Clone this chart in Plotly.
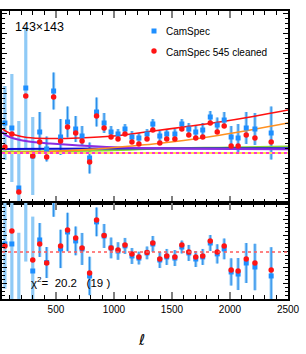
import plotly.graph_objects as go
from plotly.subplots import make_subplots

# ---------------- data ----------------
ell = [60, 120, 180, 240, 300, 360, 420, 480, 540, 600, 670, 725, 790, 850, 915,
       975, 1035, 1095, 1155, 1215, 1285, 1335, 1395, 1455, 1525, 1585, 1645, 1705,
       1765, 1830, 1890, 1950, 2010, 2070, 2140, 2215, 2355]

top_camspec = [6.0, 5.0, -7.0, 13.0, -0.6, 4.2, 0.8, 12.4, 3.2, 6.2, 4.8, 3.4, -1.0, 8.2, 6.0,
               4.2, 3.8, 4.8, 3.2, 3.0, 3.8, 5.8, 3.4, 3.8, 3.8, 5.8, 4.8, 4.2,
               4.6, 7.2, 5.6, 6.6, 3.2, 3.0, 5.0, 4.8, 4.0]
top_cleaned = [1.2, 3.8, -7.8, 11.4, -0.6, 2.2, -0.8, 11.2, 2.4, 5.2, 4.0, 2.4, -1.8, 7.4, 5.0,
               3.2, 2.8, 3.8, 2.2, 1.8, 2.8, 4.6, 2.0, 2.8, 2.8, 4.8, 3.6, 3.0,
               3.2, 6.0, 4.2, 5.4, 1.4, 1.4, 3.6, 3.0, 2.2]
top_err = [7.4, 10.8, 13.4, 12.2, 7.8, 4.0, 2.5, 3.7, 3.6, 3.1, 2.6, 2.0, 3.1, 2.9, 2.0,
           1.2, 1.0, 1.0, 1.2, 1.0, 1.0, 1.0, 1.0, 1.0, 1.0, 1.0, 1.2, 1.2,
           1.4, 1.2, 1.5, 1.6, 2.2, 2.8, 3.2, 3.2, 5.3]

res_camspec = [0.5, 0.5, -3.8, 3.6, -1.19, 0.75, -0.66, 3.4, 0.19, 1.25, 0.69, 0.19, -1.5, 1.88, 1.0,
               0.25, 0.06, 0.38, -0.25, -0.38, -0.06, 0.5, -0.5, -0.31, -0.38, 0.31, -0.06, -0.44,
               -0.31, 0.56, -0.12, 0.19, -1.25, -1.38, -0.69, -0.94, -1.5]
res_cleaned = [0.38, 1.31, -4.0, 3.4, -0.5, 0.5, -0.69, 3.3, 0.38, 1.38, 0.88, 0.25, -1.31, 2.0, 1.03,
               0.25, 0.12, 0.44, -0.12, -0.31, -0.03, 0.56, -0.44, -0.25, -0.31, 0.44, 0.0, -0.31,
               -0.25, 0.69, 0.0, 0.38, -1.12, -1.19, -0.44, -0.69, -1.12]
res_err = [2.8, 3.5, 5.0, 4.2, 3.4, 1.06, 0.97, 1.2, 1.2, 1.2, 0.9, 1.0, 1.2, 0.9, 0.75,
           0.65, 0.55, 0.5, 0.5, 0.4, 0.4, 0.5, 0.5, 0.5, 0.5, 0.4, 0.5, 0.5,
           0.5, 0.5, 0.6, 0.65, 0.85, 1.0, 1.25, 1.45, 1.8]

# model curves
ell_red = [35, 80, 150, 250, 450, 700, 1000, 1340, 1600, 1910, 2200, 2500]
model_red = [4.9, 4.2, 3.6, 3.1, 2.9, 3.0, 3.4, 4.4, 5.2, 6.2, 7.3, 8.6]
ell_orange = [35, 500, 800, 1100, 1340, 1600, 1910, 2200, 2500]
model_orange = [0.1, 0.35, 0.72, 1.3, 1.8, 2.5, 3.55, 4.7, 6.0]
ell_purple = [35, 60, 100, 190, 300, 450, 700, 1000, 1400, 2000, 2500]
model_purple = [4.2, 3.7, 3.2, 2.6, 2.2, 1.9, 1.5, 1.15, 0.95, 0.8, 0.75]
ell_green = [35, 500, 900, 1400, 2000, 2500]
model_green = [0.25, 0.35, 0.5, 0.9, 1.1, 1.3]
ell_blue = [35, 1000, 2500]
model_blue = [0.8, 0.9, 0.95]

x_ticks = [500, 1000, 1500, 2000, 2500]
label_spec = "143×143"
chi2_text = "χ<sup>2</sup>=\u00a0\u00a020.2\u00a0\u00a0\u00a0(19\u00a0)"

# ---------------- styling ----------------
FONT = "Liberation Sans, Arial, Helvetica, sans-serif"
LIGHT = "#8fcaf6"
DARK = "#2a8ceb"
BLUE = "#1e8fff"
RED = "#ff1414"

fig = make_subplots(rows=2, cols=1, shared_xaxes=True, vertical_spacing=0,
                    row_heights=[2 / 3, 1 / 3])

dark_idx = [i for i, l in enumerate(ell) if l > 330]


def add_panel(row, yb, err):
    fig.add_trace(go.Scatter(x=ell, y=yb, mode="markers",
                             marker=dict(size=1, color="rgba(0,0,0,0)"),
                             error_y=dict(type="data", array=err, color=LIGHT,
                                          thickness=3.2, width=0),
                             hoverinfo="skip"), row=row, col=1)
    fig.add_trace(go.Scatter(x=[ell[i] for i in dark_idx], y=[yb[i] for i in dark_idx],
                             mode="markers", marker=dict(size=1, color="rgba(0,0,0,0)"),
                             error_y=dict(type="data", array=[err[i] for i in dark_idx],
                                          color=DARK, thickness=1.1, width=0),
                             hoverinfo="skip"), row=row, col=1)


add_panel(1, top_camspec, top_err)
# zero reference lines in top panel
fig.add_hline(y=0, line=dict(color="#ffe04a", width=2), row=1, col=1)
fig.add_hline(y=0, line=dict(color="#ff33cc", width=2, dash="dot"), row=1, col=1)

for xs, ys, col, w in [(ell_green, model_green, "#8ed63a", 2.2),
                       (ell_blue, model_blue, "#1010d0", 2.2),
                       (ell_purple, model_purple, "#8a2be2", 2.0),
                       (ell_orange, model_orange, "#ff9020", 1.6),
                       (ell_red, model_red, "#ff1010", 1.6)]:
    fig.add_trace(go.Scatter(x=xs, y=ys, mode="lines",
                             line=dict(color=col, width=w, shape="spline", smoothing=1.0)),
                  row=1, col=1)

fig.add_trace(go.Scatter(x=ell, y=top_camspec, mode="markers",
                         marker=dict(symbol="square", size=5, color=BLUE)), row=1, col=1)
fig.add_trace(go.Scatter(x=ell, y=top_cleaned, mode="markers",
                         marker=dict(symbol="circle", size=5.5, color=RED)), row=1, col=1)

add_panel(2, res_camspec, res_err)
fig.add_hline(y=0, line=dict(color="#ff5a5a", width=1.5, dash="dot"), row=2, col=1)
fig.add_trace(go.Scatter(x=ell, y=res_camspec, mode="markers",
                         marker=dict(symbol="square", size=5, color=BLUE)), row=2, col=1)
fig.add_trace(go.Scatter(x=ell, y=res_cleaned, mode="markers",
                         marker=dict(symbol="circle", size=5.5, color=RED)), row=2, col=1)

xaxis_common = dict(range=[35, 2500], ticks="inside", tickvals=x_ticks, ticklen=7,
                    tickwidth=2, tickcolor="#808080", showline=True, linecolor="black",
                    linewidth=1.5, mirror="allticks", showgrid=False, zeroline=False,
                    minor=dict(ticks="inside", dtick=100, tick0=0, ticklen=4,
                               tickcolor="black", tickwidth=1, showgrid=False),
                    tickfont=dict(family=FONT, size=10, color="black"))
fig.update_xaxes(**xaxis_common)
fig.update_xaxes(showticklabels=False, row=1, col=1)
fig.update_xaxes(showticklabels=True, row=2, col=1)

yaxis_common = dict(ticks="inside", showline=True, linecolor="black", linewidth=1.5,
                    mirror="allticks", showgrid=False, zeroline=False,
                    showticklabels=False, tickcolor="black", tickwidth=1)
fig.update_yaxes(**yaxis_common)
fig.update_yaxes(range=[-10, 28.4], tick0=0, dtick=4, ticklen=5,
                 minor=dict(ticks="inside", dtick=1, ticklen=3, tickcolor="black",
                            showgrid=False), row=1, col=1)
fig.update_yaxes(range=[-2.94, 3.06], tick0=0, dtick=1, ticklen=5,
                 minor=dict(ticks="inside", dtick=0.25, ticklen=3, tickcolor="black",
                            showgrid=False), row=2, col=1)

L, R, T, B = 2, 18, 11, 55
W, H = 306, 354
pw, ph = W - L - R, H - T - B


def px(x):
    return (x - L) / pw


def py(y):
    return (H - B - y) / ph


annotations = [
    dict(x=px(13), y=py(27), text=label_spec, xanchor="left", yanchor="middle",
         font=dict(family=FONT, size=12.5, color="black")),
    dict(x=px(164), y=py(32), text="CamSpec", xanchor="left", yanchor="middle",
         font=dict(family=FONT, size=10, color="black")),
    dict(x=px(164), y=py(52), text="CamSpec 545 cleaned", xanchor="left", yanchor="middle",
         font=dict(family=FONT, size=10, color="black")),
    dict(x=px(29), y=py(282), text=chi2_text, xanchor="left", yanchor="middle",
         font=dict(family=FONT, size=11.5, color="black")),
    dict(x=px(141), y=py(340), text="ℓ", xanchor="center", yanchor="middle",
         font=dict(family="DejaVu Sans, sans-serif", size=15, color="black")),
]
for a in annotations:
    a.update(xref="paper", yref="paper", showarrow=False)

shapes = [
    dict(type="rect", xref="paper", yref="paper", xsizemode="pixel", ysizemode="pixel",
         xanchor=px(154), yanchor=py(31), x0=-2.5, x1=2.5, y0=-2.5, y1=2.5,
         fillcolor=BLUE, line=dict(width=0)),
    dict(type="circle", xref="paper", yref="paper", xsizemode="pixel", ysizemode="pixel",
         xanchor=px(154), yanchor=py(51), x0=-2.7, x1=2.7, y0=-2.7, y1=2.7,
         fillcolor=RED, line=dict(width=0)),
]

fig.update_layout(width=W, height=H, margin=dict(l=L, r=R, t=T, b=B),
                  plot_bgcolor="white", paper_bgcolor="white", showlegend=False,
                  annotations=annotations, shapes=list(fig.layout.shapes) + shapes,
                  font=dict(family=FONT))

fig.write_html("out.html", config={"displayModeBar": False},
               post_script="document.body.style.margin='0px';document.body.style.padding='0px';")
